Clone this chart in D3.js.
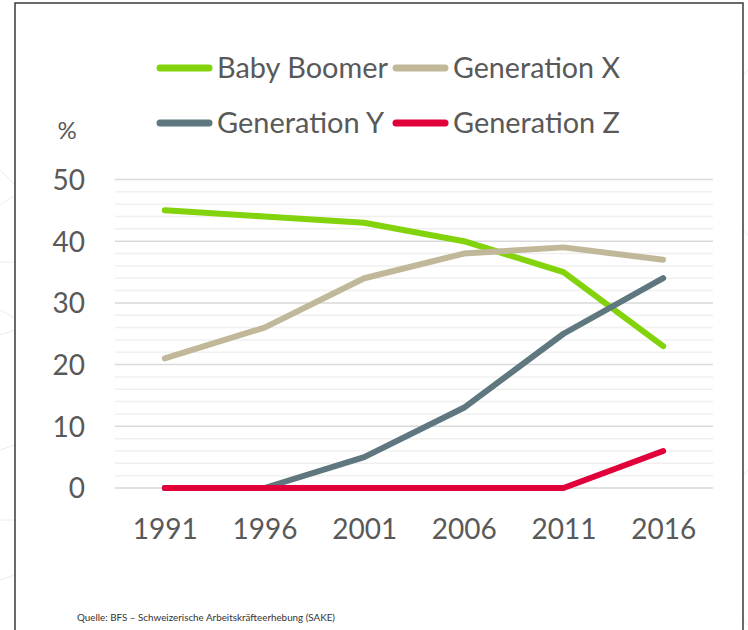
<!DOCTYPE html>
<html><head><meta charset="utf-8">
<script src="https://cdn.jsdelivr.net/npm/d3@7"></script>
<style>body{margin:0;background:#fff;}svg{display:block;font-family:Lato,'Open Sans',sans-serif;}</style>
</head><body><svg id="c" width="748" height="630"></svg>
<script>
const years = ["1991","1996","2001","2006","2011","2016"];
const babyBoomer = [45,44,43,40,35,23];
const genX = [21,26,34,38,39,37];
const genY = [0,0,5,13,25,34];
const genZ = [0,0,0,0,0,6];
const seriesNames = ["Baby Boomer","Generation X","Generation Y","Generation Z"];
const seriesColors = ["#82d30c","#c1b89a","#5f777e","#e2003a"];
const yTicks = [0,10,20,30,40,50];
const sourceText = "Quelle: BFS \u2013 Schweizerische Arbeitskr\u00e4fteerhebung (SAKE)";

const svg = d3.select("#c");
const textColor = "#595959";

// faint background pattern outside panel
const bg = svg.append("g").attr("stroke","#ececec").attr("stroke-width",1).attr("fill","none");
[[0,170,15,185],[0,205,15,195],[0,262,15,262],[0,310,15,318],[0,335,15,330],[0,450,15,445],[0,520,15,520],[0,580,15,575],
 [743,75,748,70],[743,230,748,235],[743,475,748,470],[743,620,748,625]].forEach(l=>{
  bg.append("line").attr("x1",l[0]).attr("y1",l[1]).attr("x2",l[2]).attr("y2",l[3]);
});

// panel
svg.append("rect").attr("x",15).attr("y",3).attr("width",728).attr("height",640)
  .attr("fill","#fff").attr("stroke","#3a3a3a").attr("stroke-width",1.5);

const x = d3.scalePoint().domain(years).range([115,713]).padding(0.5);
const y = d3.scaleLinear().domain([0,50]).range([488,179.5]);

// gridlines minor
const minor = d3.range(0,51,2).filter(v=>v%10!==0);
svg.append("g").selectAll("line").data(minor).join("line")
  .attr("x1",115).attr("x2",713).attr("y1",d=>y(d)).attr("y2",d=>y(d))
  .attr("stroke","#f0f0f0").attr("stroke-width",1.5);
svg.append("g").selectAll("line").data(yTicks).join("line")
  .attr("x1",115).attr("x2",713).attr("y1",d=>y(d)).attr("y2",d=>y(d))
  .attr("stroke","#d9d9d9").attr("stroke-width",1.5);

// y axis labels
const yAxis = svg.append("g").attr("transform","translate(85,0)")
  .call(d3.axisLeft(y).tickValues(yTicks).tickSize(0).tickPadding(0));
yAxis.select(".domain").remove();
yAxis.selectAll("text").attr("font-size",28).attr("fill",textColor).attr("font-family","Lato").attr("dy","0.35em");

// x axis labels
const xAxis = svg.append("g").attr("transform","translate(0,539)")
  .call(d3.axisBottom(x).tickSize(0).tickPadding(0));
xAxis.select(".domain").remove();
xAxis.selectAll("text").attr("font-size",28).attr("fill",textColor).attr("font-family","Lato").attr("dy","0");

svg.append("text").attr("x",67).attr("y",139).attr("text-anchor","middle")
  .attr("font-size",24).attr("fill",textColor).text("%");

// lines
const allSeries = [babyBoomer,genX,genY,genZ];
const line = d3.line().x((d,i)=>x(years[i])).y(d=>y(d));
allSeries.forEach((s,k)=>{
  svg.append("path").datum(s).attr("d",line).attr("fill","none")
    .attr("stroke",seriesColors[k]).attr("stroke-width",6)
    .attr("stroke-linecap","round").attr("stroke-linejoin","round");
});

// legend
const legendPos = [[160,68],[396,68],[160,123],[396,123]];
seriesNames.forEach((n,k)=>{
  const [lx,ly] = legendPos[k];
  svg.append("line").attr("x1",lx).attr("x2",lx+49).attr("y1",ly).attr("y2",ly)
    .attr("stroke",seriesColors[k]).attr("stroke-width",7).attr("stroke-linecap","round");
  svg.append("text").attr("x",lx+57).attr("y",ly+9.5).attr("font-size",28)
    .attr("fill",textColor).attr("textLength",k===0?171:167).attr("lengthAdjust","spacingAndGlyphs").text(n);
});

svg.append("text").attr("x",77).attr("y",621).attr("font-size",9.5)
  .attr("fill","#333").attr("textLength",258).attr("lengthAdjust","spacingAndGlyphs").text(sourceText);
</script></body></html>
